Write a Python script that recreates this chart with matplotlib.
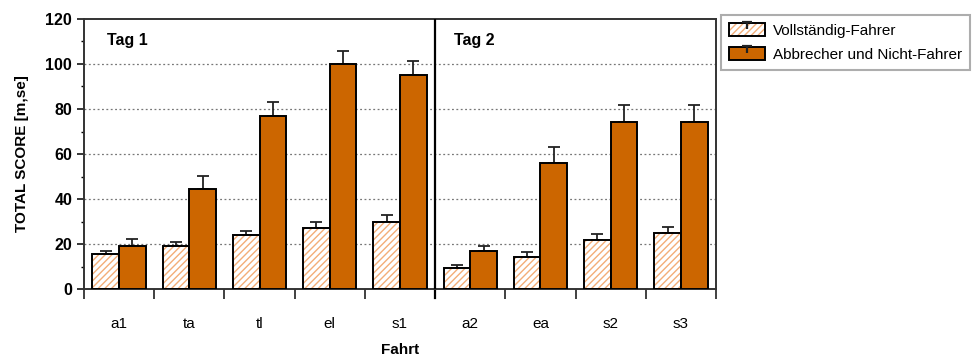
import numpy as np
import matplotlib
matplotlib.use("Agg")
import matplotlib.pyplot as plt
from matplotlib.patches import Patch
from matplotlib.lines import Line2D
from matplotlib.path import Path

plt.rcParams['font.family'] = ['Liberation Sans', 'DejaVu Sans']
plt.rcParams['hatch.linewidth'] = 1.0

categories = ['a1', 'ta', 'tl', 'el', 's1', 'a2', 'ea', 's2', 's3']
voll_mean = [15.7, 19.3, 23.9, 27.3, 29.9, 9.3, 14.4, 21.9, 24.7]
voll_se = [1.4, 1.7, 2.0, 2.6, 3.0, 1.5, 1.9, 2.4, 2.7]
abbr_mean = [19.2, 44.5, 77.1, 100.2, 95.1, 16.7, 55.9, 74.2, 74.2]
abbr_se = [2.9, 5.9, 6.0, 5.6, 6.1, 2.6, 7.2, 7.7, 7.7]
series_names = ['Vollständig-Fahrer', 'Abbrecher und Nicht-Fahrer']
day_labels = ['Tag 1', 'Tag 2']

orange = '#CC6600'
hatch_col = '#F3AE78'

fig = plt.figure(figsize=(9.72, 3.61), dpi=100)
ax = fig.add_axes([0.0864, 0.1994, 0.6502, 0.748])

x = np.arange(len(categories))
w = 0.38

# hatched bars: hatch layer + black outline
ax.bar(x - w / 2, voll_mean, w, color='white', edgecolor=hatch_col, hatch='/////', linewidth=0, zorder=2)
ax.bar(x - w / 2, voll_mean, w, fill=False, edgecolor='black', linewidth=1.4, zorder=3)
ax.errorbar(x - w / 2, voll_mean, yerr=[np.zeros(len(x)), voll_se], fmt='none',
            ecolor='#222222', elinewidth=1.3, capsize=4, capthick=1.3, zorder=1)

ax.bar(x + w / 2, abbr_mean, w, color=orange, edgecolor='black', linewidth=1.4, zorder=3)
ax.errorbar(x + w / 2, abbr_mean, yerr=[np.zeros(len(x)), abbr_se], fmt='none',
            ecolor='#222222', elinewidth=1.3, capsize=4, capthick=1.3, zorder=1)

ax.set_xlim(-0.5, len(categories) - 0.5)
ax.set_ylim(0, 120)

# grid
for g in range(20, 101, 20):
    ax.axhline(g, color='#777777', lw=0.9, ls=(0, (1.5, 2)), zorder=0)

ax.axvline(4.5, color='black', lw=1.6, zorder=4)
ax.plot([4.5, 4.5], [0, -0.033], color='black', lw=1.6, transform=ax.get_xaxis_transform(), clip_on=False)

# ticks
ax.set_xticks(np.arange(-0.5, len(categories), 1.0))
ax.set_xticklabels([])
ax.set_xticks(x, minor=True)
ax.set_xticklabels(categories, minor=True, fontsize=11)
ax.tick_params(axis='x', which='major', direction='out', length=7, width=1.3, color='#333333')
ax.tick_params(axis='x', which='minor', length=0, pad=20)

ax.set_yticks(range(0, 121, 20))
ax.set_yticks(range(10, 120, 20), minor=True)
ax.tick_params(axis='y', which='major', direction='out', length=5, width=1.1, labelsize=11.5)
ax.tick_params(axis='y', which='minor', direction='out', length=2.5, width=1.0)
for lbl in ax.get_yticklabels():
    lbl.set_fontweight('bold')

for s in ax.spines.values():
    s.set_linewidth(1.4)
    s.set_color('#333333')

ax.set_ylabel('TOTAL SCORE [m,se]', fontsize=11, fontweight='bold', labelpad=12)
ax.set_xlabel('Fahrt', fontsize=11, fontweight='bold', labelpad=9)

ax.text(-0.5 + 0.33, 0.92, day_labels[0], transform=ax.get_xaxis_transform(), fontsize=11.5,
        fontweight='bold', va='center', ha='left')
ax.text(4.5 + 0.27, 0.92, day_labels[1], transform=ax.get_xaxis_transform(), fontsize=11.5,
        fontweight='bold', va='center', ha='left')

# legend with small error "T" symbol
tpath = Path([(-0.35, 0.5), (0.35, 0.5), (0, 0.5), (0, 0)],
             [Path.MOVETO, Path.LINETO, Path.MOVETO, Path.LINETO])
tmark = Line2D([], [], marker=tpath, markersize=10, color='#222222', ls='none', mew=1.6)
h1 = (Patch(facecolor='white', edgecolor=hatch_col, hatch='/////', linewidth=0),
      Patch(fill=False, edgecolor='black', linewidth=1.4), tmark)
h2 = (Patch(facecolor=orange, edgecolor='black', linewidth=1.4), tmark)
leg = fig.legend([h1, h2], series_names, loc='upper left', bbox_to_anchor=(721 / 972, 1 - 15 / 361),
                 borderaxespad=0, fontsize=11, frameon=True, fancybox=False,
                 handlelength=2.3, handleheight=0.9, handletextpad=0.55, labelspacing=0.6,
                 borderpad=0.55)
leg.get_frame().set_edgecolor('#999999')
leg.get_frame().set_linewidth(1.5)

fig.savefig('out.png', dpi=100)
